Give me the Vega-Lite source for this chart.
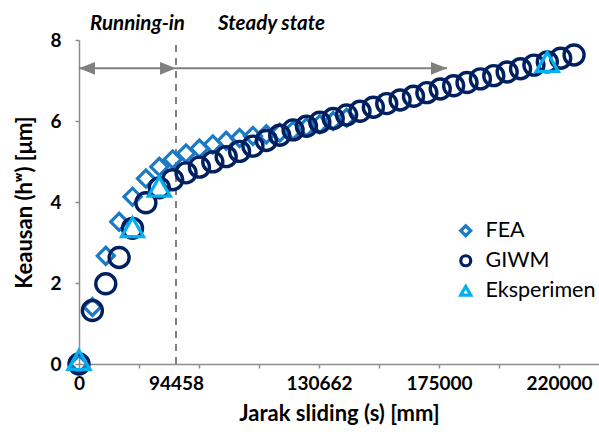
{
  "$schema": "https://vega.github.io/schema/vega-lite/v6.json",
  "width": 520,
  "height": 324,
  "autosize": "none",
  "padding": {"left": 79, "top": 40, "right": 0, "bottom": 68},
  "config": {
    "view": {"stroke": null},
    "font": "Lato",
    "axis": {"grid": false, "domainColor": "#8C8C8C", "domainWidth": 1.5, "tickColor": "#8C8C8C", "tickWidth": 1.5, "tickSize": 4, "labelFont": "Lato", "labelFontWeight": "bold", "labelFontSize": 19, "labelColor": "#000000", "titleFont": "Lato", "titleFontWeight": "bold", "titleFontSize": 22, "titleColor": "#000000"},
    "legend": {"orient": "none", "legendX": 376, "legendY": 180, "labelFont": "Lato", "labelFontSize": 21.5, "labelColor": "#000000", "symbolSize": 100, "symbolStrokeWidth": 3.2, "rowPadding": 6, "labelOffset": 9, "padding": 0}
  },
  "layer": [
    {
      "data": {"values": [{"s": 48500, "h": 0, "h2": 8}]},
      "mark": {"type": "rule", "color": "#808080", "strokeWidth": 2, "strokeDash": [7, 6]},
      "encoding": {
        "x": {"field": "s", "type": "quantitative", "scale": {"domain": [0, 260000], "nice": false, "zero": false},
          "axis": {"title": "Jarak sliding (s) [mm]", "values": [0, 30000, 48500, 60000, 90000, 120000, 150000, 180000, 210000, 240000],
            "labelExpr": "datum.value == 0 ? '0' : datum.value == 48500 ? '94458' : datum.value == 120000 ? '130662' : datum.value == 180000 ? '175000' : datum.value == 240000 ? '220000' : ''",
            "labelOverlap": false, "labelBound": false, "labelFlush": false, "labelPadding": 6, "titlePadding": 10,
            "tickOpacity": {"condition": {"test": "datum.value == 48500", "value": 0}, "value": 1}}},
        "y": {"field": "h", "type": "quantitative", "scale": {"domain": [0, 8], "nice": false},
          "axis": {"title": "Keausan (hʷ) [μm]", "values": [0, 2, 4, 6, 8], "labelPadding": 14, "titlePadding": 13}},
        "y2": {"field": "h2"}
      }
    },
    {
      "data": {"values": [{"s": 0, "s2": 48500, "h": 7.3}, {"s": 48500, "s2": 184000, "h": 7.3}]},
      "mark": {"type": "rule", "color": "#808080", "strokeWidth": 2},
      "encoding": {
        "x": {"field": "s", "type": "quantitative"},
        "x2": {"field": "s2"},
        "y": {"field": "h", "type": "quantitative"}
      }
    },
    {
      "data": {"values": [{"s": 0, "h": 7.3}]},
      "mark": {"type": "point", "shape": "M0,0L1,-0.4L1,0.4Z", "filled": true, "color": "#808080", "opacity": 1, "size": 1024},
      "encoding": {
        "x": {"field": "s", "type": "quantitative"},
        "y": {"field": "h", "type": "quantitative"}
      }
    },
    {
      "data": {"values": [{"s": 48500, "h": 7.3}, {"s": 184000, "h": 7.3}]},
      "mark": {"type": "point", "shape": "M0,0L-1,-0.4L-1,0.4Z", "filled": true, "color": "#808080", "opacity": 1, "size": 1024},
      "encoding": {
        "x": {"field": "s", "type": "quantitative"},
        "y": {"field": "h", "type": "quantitative"}
      }
    },
    {
      "data": {"values": [{"s": 29250, "h": 8.4, "label": "Running-in"}, {"s": 96250, "h": 8.4, "label": "Steady state"}]},
      "mark": {"type": "text", "font": "Lato", "fontSize": 20.5, "fontStyle": "italic", "fontWeight": "bold", "color": "#000000", "baseline": "middle", "align": "center"},
      "encoding": {
        "x": {"field": "s", "type": "quantitative"},
        "y": {"field": "h", "type": "quantitative"},
        "text": {"field": "label"}
      }
    },
    {
      "data": {"values": [
        {"series": "FEA", "s": 0, "h": 0},
        {"series": "FEA", "s": 6690, "h": 1.41},
        {"series": "FEA", "s": 13380, "h": 2.67},
        {"series": "FEA", "s": 20070, "h": 3.51},
        {"series": "FEA", "s": 26760, "h": 4.13},
        {"series": "FEA", "s": 33450, "h": 4.58},
        {"series": "FEA", "s": 40140, "h": 4.87},
        {"series": "FEA", "s": 46830, "h": 5.05},
        {"series": "FEA", "s": 53520, "h": 5.2},
        {"series": "FEA", "s": 60210, "h": 5.32},
        {"series": "FEA", "s": 66900, "h": 5.42},
        {"series": "FEA", "s": 73590, "h": 5.51},
        {"series": "FEA", "s": 80280, "h": 5.58},
        {"series": "FEA", "s": 86970, "h": 5.63},
        {"series": "FEA", "s": 93660, "h": 5.67},
        {"series": "FEA", "s": 100350, "h": 5.71},
        {"series": "FEA", "s": 107040, "h": 5.76},
        {"series": "FEA", "s": 113730, "h": 5.84},
        {"series": "FEA", "s": 120420, "h": 5.92},
        {"series": "FEA", "s": 127110, "h": 6.0},
        {"series": "FEA", "s": 133800, "h": 6.08}
      ]},
      "mark": {"type": "point", "filled": false, "strokeWidth": 3.2, "opacity": 1, "size": 289},
      "encoding": {
        "x": {"field": "s", "type": "quantitative"},
        "y": {"field": "h", "type": "quantitative"},
        "color": {"field": "series", "type": "nominal", "scale": {"domain": ["FEA", "GIWM", "Eksperimen"], "range": ["#1A7AC6", "#002060", "#00B0F0"]}, "legend": {"title": null}},
        "shape": {"field": "series", "type": "nominal", "scale": {"domain": ["FEA", "GIWM", "Eksperimen"], "range": ["diamond", "circle", "triangle-up"]}, "legend": {"title": null}}
      }
    },
    {
      "data": {"values": [
        {"series": "GIWM", "s": 0, "h": 0},
        {"series": "GIWM", "s": 6690, "h": 1.32},
        {"series": "GIWM", "s": 13380, "h": 1.98},
        {"series": "GIWM", "s": 20070, "h": 2.63},
        {"series": "GIWM", "s": 26760, "h": 3.35},
        {"series": "GIWM", "s": 33450, "h": 3.98},
        {"series": "GIWM", "s": 40140, "h": 4.35},
        {"series": "GIWM", "s": 46830, "h": 4.55},
        {"series": "GIWM", "s": 53520, "h": 4.72},
        {"series": "GIWM", "s": 60210, "h": 4.86},
        {"series": "GIWM", "s": 66900, "h": 4.99},
        {"series": "GIWM", "s": 73590, "h": 5.12},
        {"series": "GIWM", "s": 80280, "h": 5.25},
        {"series": "GIWM", "s": 86970, "h": 5.38},
        {"series": "GIWM", "s": 93660, "h": 5.52},
        {"series": "GIWM", "s": 100350, "h": 5.65},
        {"series": "GIWM", "s": 107040, "h": 5.78},
        {"series": "GIWM", "s": 113730, "h": 5.87},
        {"series": "GIWM", "s": 120420, "h": 5.97},
        {"series": "GIWM", "s": 127110, "h": 6.06},
        {"series": "GIWM", "s": 133800, "h": 6.15},
        {"series": "GIWM", "s": 140490, "h": 6.24},
        {"series": "GIWM", "s": 147180, "h": 6.34},
        {"series": "GIWM", "s": 153870, "h": 6.43},
        {"series": "GIWM", "s": 160560, "h": 6.52},
        {"series": "GIWM", "s": 167250, "h": 6.61},
        {"series": "GIWM", "s": 173940, "h": 6.7},
        {"series": "GIWM", "s": 180630, "h": 6.79},
        {"series": "GIWM", "s": 187320, "h": 6.87},
        {"series": "GIWM", "s": 194010, "h": 6.95},
        {"series": "GIWM", "s": 200700, "h": 7.04},
        {"series": "GIWM", "s": 207390, "h": 7.12},
        {"series": "GIWM", "s": 214080, "h": 7.21},
        {"series": "GIWM", "s": 220770, "h": 7.29},
        {"series": "GIWM", "s": 227460, "h": 7.38},
        {"series": "GIWM", "s": 234150, "h": 7.46},
        {"series": "GIWM", "s": 240840, "h": 7.55},
        {"series": "GIWM", "s": 247530, "h": 7.63}
      ]},
      "mark": {"type": "point", "filled": false, "strokeWidth": 3.4, "opacity": 1, "size": 400},
      "encoding": {
        "x": {"field": "s", "type": "quantitative"},
        "y": {"field": "h", "type": "quantitative"},
        "color": {"field": "series", "type": "nominal"},
        "shape": {"field": "series", "type": "nominal"}
      }
    },
    {
      "data": {"values": [
        {"series": "Eksperimen", "s": 0, "h": 0.1},
        {"series": "Eksperimen", "s": 26760, "h": 3.38},
        {"series": "Eksperimen", "s": 40140, "h": 4.38},
        {"series": "Eksperimen", "s": 234150, "h": 7.46}
      ]},
      "mark": {"type": "point", "filled": false, "strokeWidth": 3.2, "opacity": 1, "size": 484},
      "encoding": {
        "x": {"field": "s", "type": "quantitative"},
        "y": {"field": "h", "type": "quantitative"},
        "color": {"field": "series", "type": "nominal"},
        "shape": {"field": "series", "type": "nominal"}
      }
    }
  ]
}
